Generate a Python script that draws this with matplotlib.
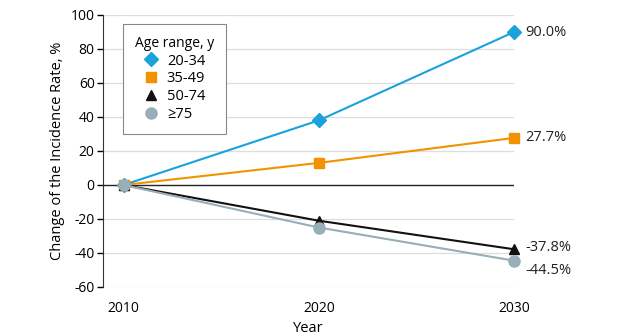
import numpy as np
from matplotlib import pyplot as plt

## data
years = [2010, 2020, 2030]
groups = ['20-34', '35-49', '50-74', '\u226575']
change_20_34 = [0, 38, 90.0]
change_35_49 = [0, 13, 27.7]
change_50_74 = [0, -21, -37.8]
change_75 = [0, -25, -44.5]
end_labels = ['90.0%', '27.7%', '-37.8%', '-44.5%']
yticks = [-60, -40, -20, 0, 20, 40, 60, 80, 100]

series = [change_20_34, change_35_49, change_50_74, change_75]
colors = ['#1ba1dc', '#f39200', '#111111', '#98aeb9']
markers = ['D', 's', '^', 'o']
msizes = [7, 7, 7.5, 8]
label_offsets = [0, 0, 0.8, -5.5]

plt.rcParams['font.family'] = ['Open Sans', 'DejaVu Sans']
plt.rcParams['font.size'] = 10
plt.rcParams['axes.unicode_minus'] = False

fig = plt.figure(figsize=(6.34, 3.36), dpi=100)
ax = fig.add_axes([103/634, 1-287/336, (514-103)/634, (287-15)/336])

for yv in yticks:
    if yv != 0:
        ax.axhline(yv, color='#dedede', linewidth=0.9, zorder=0)
ax.axhline(0, color='#222222', linewidth=1.0, zorder=1)

for i in range(len(series)):
    ax.plot(years, series[i], color=colors[i], marker=markers[i],
            markersize=msizes[i], linewidth=1.5, label=groups[i],
            clip_on=False, zorder=3)
    ax.text(2030.6, series[i][-1] + label_offsets[i], end_labels[i],
            va='center', ha='left', fontsize=10.5, color='#222222')

ax.set_xlim(2008.95, 2030)
ax.set_ylim(-60, 100)
ax.set_xticks(years)
ax.set_yticks(yticks)
ax.tick_params(axis='x', length=0, pad=10, labelsize=10)
ax.tick_params(axis='y', length=4, width=1, labelsize=10, pad=2)
for s in ['top', 'right', 'bottom']:
    ax.spines[s].set_visible(False)
ax.spines['left'].set_color('#333333')
ax.set_xlabel('Year', fontsize=10.5, labelpad=4)
ax.set_ylabel('Change of the Incidence Rate, %', fontsize=10.5, labelpad=4)

leg = ax.legend(title='Age range, y', loc='upper left',
                bbox_to_anchor=((123-103)/411, (287-24)/272),
                borderaxespad=0,
                fancybox=False, edgecolor='#888888', framealpha=1,
                fontsize=10.5, title_fontsize=10, handlelength=1.0,
                handletextpad=0.6, borderpad=0.8, labelspacing=0.2)
for h in leg.legend_handles:
    h.set_linestyle('')
leg.get_frame().set_linewidth(0.8)

plt.savefig('out.png', dpi=100)
